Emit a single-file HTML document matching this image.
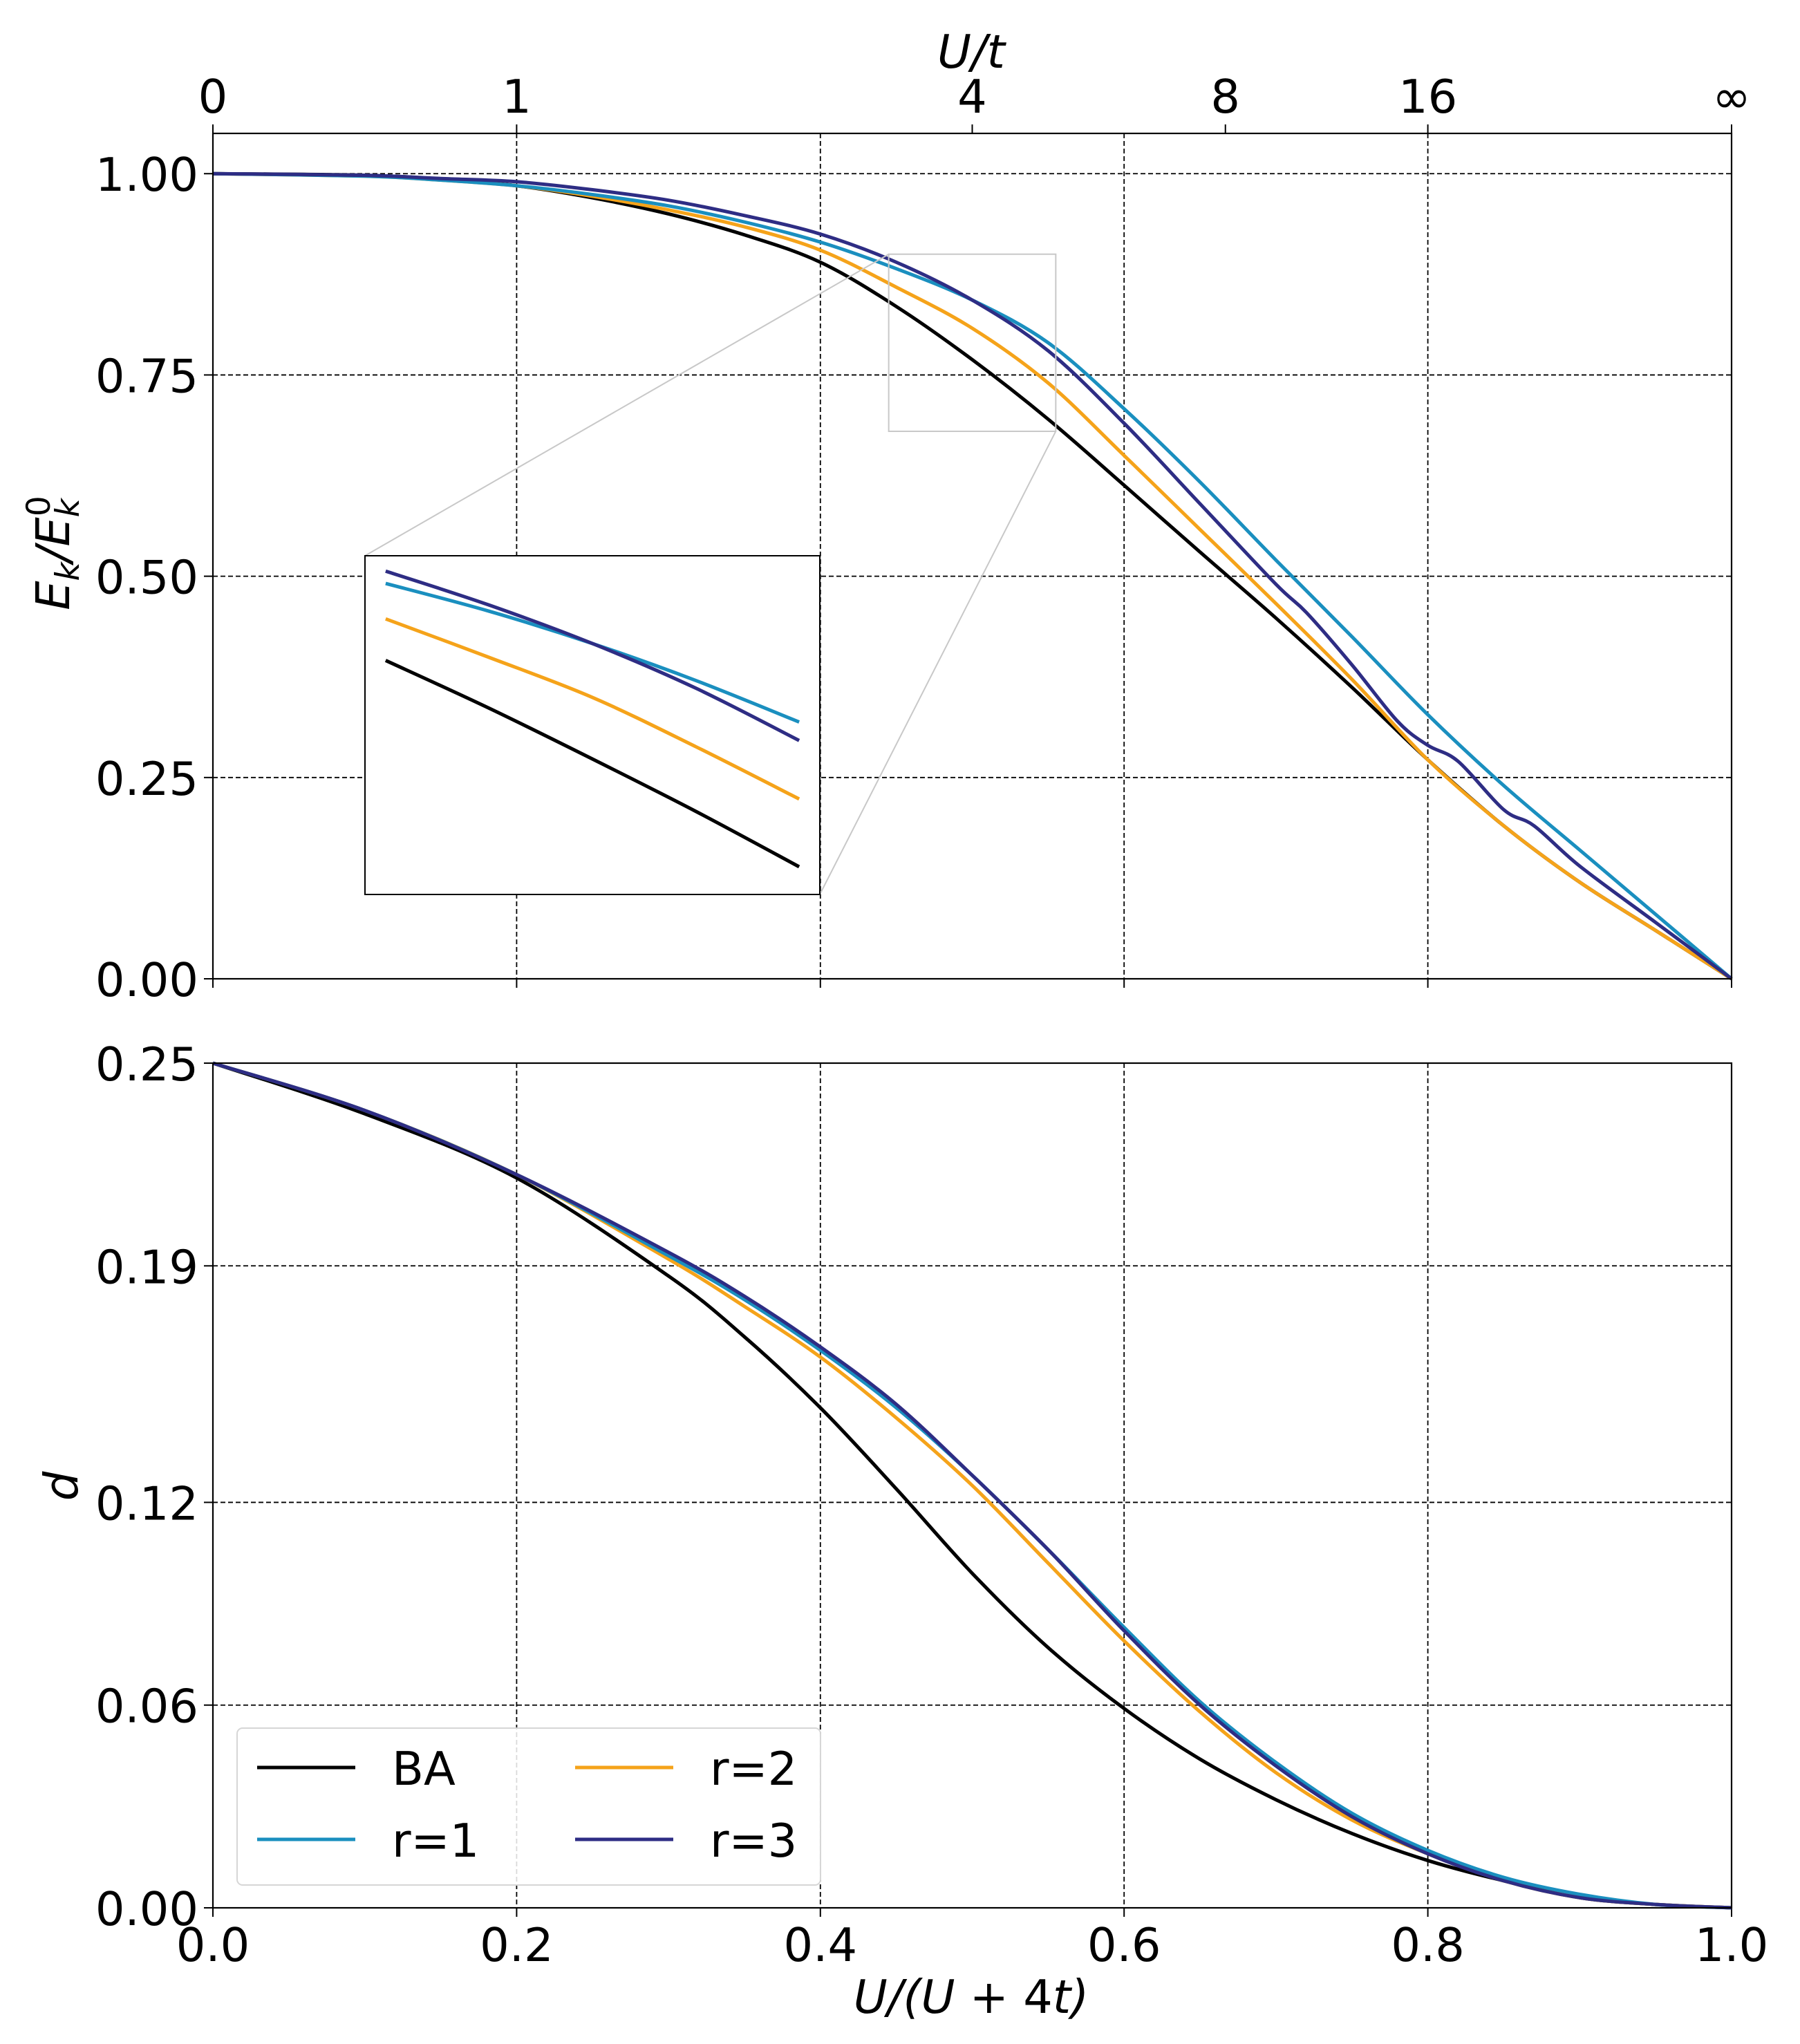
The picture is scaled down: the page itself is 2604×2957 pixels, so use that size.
<!DOCTYPE html>
<html><head><meta charset="utf-8"><style>
html,body{margin:0;padding:0;background:#fff}
svg{display:block}
text{font-family:"DejaVu Sans","Liberation Sans",sans-serif;fill:#000}
</style></head><body>
<svg id="fig" width="2604" height="2957" viewBox="0 0 2604 2957" xmlns="http://www.w3.org/2000/svg"></svg>
<script>
// ---- data ----
const xTop = [0,0.1,0.15,0.2,0.25,0.3,0.35,0.4,0.45,0.5,0.55,0.6,0.65,0.7,0.75,0.8,0.85,0.9,0.95,1.0];
const ekBA = [1.0,0.998,0.993,0.985,0.97,0.95,0.924,0.89,0.835,0.769,0.695,0.613,0.53,0.448,0.362,0.272,0.19,0.12,0.06,0.0];
const ekR1 = [1.0,0.997,0.992,0.985,0.974,0.96,0.94,0.915,0.882,0.843,0.790,0.708,0.617,0.52,0.425,0.328,0.24,0.16,0.08,0.0];
const ekR2 = [1.0,0.997,0.992,0.985,0.972,0.955,0.934,0.905,0.859,0.808,0.740,0.65,0.558,0.466,0.372,0.272,0.19,0.12,0.06,0.0];
const xR3 = [0,0.1,0.15,0.2,0.25,0.3,0.35,0.4,0.45,0.5,0.55,0.6,0.65,0.7,0.72,0.75,0.78,0.8,0.82,0.85,0.87,0.9,0.95,1.0];
const ekR3 = [1.0,0.998,0.994,0.99,0.98,0.967,0.948,0.925,0.890,0.843,0.78,0.69,0.59,0.49,0.455,0.39,0.32,0.29,0.27,0.21,0.19,0.14,0.07,0.0];
const xIn = [0.45,0.475,0.5,0.525,0.55];
const inBA = [0.832,0.801,0.768,0.734,0.698];
const inR1 = [0.882,0.864,0.843,0.819,0.792];
const inR2 = [0.859,0.834,0.808,0.776,0.742];
const inR3 = [0.890,0.868,0.843,0.814,0.780];
const xBot = [0,0.1,0.2,0.3,0.35,0.4,0.45,0.5,0.55,0.6,0.65,0.7,0.75,0.8,0.85,0.9,0.95,1.0];
const dBA = [0.25,0.235,0.216,0.187,0.169,0.148,0.124,0.099,0.077,0.059,0.044,0.032,0.022,0.014,0.008,0.003,0.001,0.0];
const dR1 = [0.25,0.236,0.217,0.193,0.180,0.165,0.148,0.128,0.106,0.083,0.061,0.043,0.028,0.017,0.009,0.004,0.001,0.0];
const dR2 = [0.25,0.236,0.217,0.192,0.178,0.163,0.145,0.125,0.102,0.079,0.058,0.040,0.026,0.016,0.008,0.003,0.001,0.0];
const dR3 = [0.25,0.236,0.217,0.194,0.181,0.166,0.149,0.128,0.106,0.082,0.060,0.042,0.027,0.016,0.008,0.003,0.001,0.0];
const xTicks = [0,0.2,0.4,0.6,0.8,1.0];
const xTickLabels = ["0.0","0.2","0.4","0.6","0.8","1.0"];
const topTickVals = [0,0.2,0.5,0.6667,0.8,1.0];
const topTickLabels = ["0","1","4","8","16","∞"];
const ekTicks = [0,0.25,0.5,0.75,1.0];
const ekTickLabels = ["0.00","0.25","0.50","0.75","1.00"];
const dTicks = [0,0.06,0.12,0.19,0.25];
const dTickLabels = ["0.00","0.06","0.12","0.19","0.25"];
const seriesNames = ["BA","r=1","r=2","r=3"];
const colors = {BA:"#000000","r=1":"#1a8fbf","r=2":"#f5a31a","r=3":"#2e2d84"};

const NS="http://www.w3.org/2000/svg";
const svg=document.getElementById('fig');
function mk(tag,attrs,parent){const e=document.createElementNS(NS,tag);for(const k in attrs)e.setAttribute(k,attrs[k]);(parent||svg).appendChild(e);return e;}

const L=308,R=2505;
const sx=x=>L+x*(R-L);
const T1=193,B1=1416; const sy1=v=>B1-(v/1.05)*(B1-T1);
const T2=1538,B2=2760; const sy2=v=>B2-(v/0.25)*(B2-T2);
const FS=67;

function smoothPath(pts){
  let d=`M${pts[0][0]},${pts[0][1]}`;
  for(let i=0;i<pts.length-1;i++){
    const p0=pts[i-1]||pts[i],p1=pts[i],p2=pts[i+1],p3=pts[i+2]||p2;
    const c1=[p1[0]+(p2[0]-p0[0])/6,p1[1]+(p2[1]-p0[1])/6];
    const c2=[p2[0]-(p3[0]-p1[0])/6,p2[1]-(p3[1]-p1[1])/6];
    d+=` C${c1[0]},${c1[1]} ${c2[0]},${c2[1]} ${p2[0]},${p2[1]}`;
  }
  return d;
}

function grid(T,B,yt,sy){
  xTicks.slice(1,-1).forEach(x=>{
    const g=mk('line',{x1:sx(x),x2:sx(x),y1:T,y2:B,stroke:'#000','stroke-width':1.8,'stroke-dasharray':'7,4'});
    
    
  });
  yt.forEach(v=>{
    const y=sy(v); if(Math.abs(y-B)<2||Math.abs(y-T)<2)return;
    const g=mk('line',{x1:L,x2:R,y1:y,y2:y,stroke:'#000','stroke-width':1.8,'stroke-dasharray':'7,4'});
    
    
  });
}
function yAxis(ticks,labels,sy,name){
  ticks.forEach((v,i)=>{
    const y=sy(v);
    mk('line',{x1:L-13,x2:L,y1:y,y2:y,stroke:'#000','stroke-width':2});
    const t=mk('text',{x:287,y:y+25,'text-anchor':'end','font-size':FS});
    t.textContent=labels[i];
    
    
  });
}

// top panel
grid(T1,B1,ekTicks,sy1);
yAxis(ekTicks,ekTickLabels,sy1,'ek-y');
xTicks.forEach(x=>mk('line',{x1:sx(x),x2:sx(x),y1:B1,y2:B1+13,stroke:'#000','stroke-width':2}));
topTickVals.forEach((x,i)=>{
  mk('line',{x1:sx(x),x2:sx(x),y1:T1-13,y2:T1,stroke:'#000','stroke-width':2});
  const t=mk('text',{x:sx(x),y:163,'text-anchor':'middle','font-size':FS});
  t.textContent=topTickLabels[i];
  
  
});
const tt=mk('text',{x:1405,y:98,'text-anchor':'middle','font-size':FS,'font-style':'italic'});
tt.textContent='U/t';


const yl1=mk('text',{transform:'translate(100,800) rotate(-90)','text-anchor':'middle','font-size':FS,'font-style':'italic'});
yl1.innerHTML='E<tspan font-size="47" dy="14">k</tspan><tspan dy="-14">/E</tspan><tspan font-size="47" dy="14">k</tspan><tspan font-size="47" font-style="normal" dy="-42" dx="-26">0</tspan>';



function drawSeries(xs,ys,sy,key,name,w){
  const p=mk('path',{d:smoothPath(xs.map((x,i)=>[sx(x),sy(ys[i])])),fill:'none',stroke:colors[key],'stroke-width':w||5,'stroke-linejoin':'round'});
  
  
}
drawSeries(xTop,ekBA,sy1,'BA','ek-line-ba');
drawSeries(xTop,ekR2,sy1,'r=2','ek-line-r2');
drawSeries(xTop,ekR1,sy1,'r=1','ek-line-r1');
drawSeries(xR3,ekR3,sy1,'r=3','ek-line-r3');

// zoom indicator
const zx0=0.445,zx1=0.555,zy0=0.68,zy1=0.90;
const zr=mk('rect',{x:sx(zx0),y:sy1(zy1),width:sx(zx1)-sx(zx0),height:sy1(zy0)-sy1(zy1),fill:'none',stroke:'#c8c8c8','stroke-width':2});


const IL=528,IR=1186,IT=804,IB=1294;
mk('line',{x1:IL,y1:IT,x2:sx(zx0),y2:sy1(zy1),stroke:'#c8c8c8','stroke-width':2});
mk('line',{x1:IR,y1:IB,x2:sx(zx1),y2:sy1(zy0),stroke:'#c8c8c8','stroke-width':2});
const ibg=mk('rect',{x:IL,y:IT,width:IR-IL,height:IB-IT,fill:'#fff',stroke:'#000','stroke-width':2});


const isx=x=>IL+(x-zx0)/(zx1-zx0)*(IR-IL);
const isy=v=>IB-(v-zy0)/(zy1-zy0)*(IB-IT);
function inSeries(ys,key,name){
  const p=mk('path',{d:smoothPath(xIn.map((x,i)=>[isx(x),isy(ys[i])])),fill:'none',stroke:colors[key],'stroke-width':5});
  
  
}
inSeries(inBA,'BA','inset-line-ba');
inSeries(inR2,'r=2','inset-line-r2');
inSeries(inR1,'r=1','inset-line-r1');
inSeries(inR3,'r=3','inset-line-r3');
mk('rect',{x:L,y:T1,width:R-L,height:B1-T1,fill:'none',stroke:'#000','stroke-width':2.2});

// bottom panel
grid(T2,B2,dTicks,sy2);
yAxis(dTicks,dTickLabels,sy2,'d-y');
xTicks.forEach((x,i)=>{
  mk('line',{x1:sx(x),x2:sx(x),y1:B2,y2:B2+13,stroke:'#000','stroke-width':2});
  const t=mk('text',{x:sx(x),y:2837,'text-anchor':'middle','font-size':FS});
  t.textContent=xTickLabels[i];
  
  
});
const xl=mk('text',{x:1405,y:2912,'text-anchor':'middle','font-size':FS,'font-style':'italic'});
xl.innerHTML='U/(U<tspan font-style="normal"> + 4</tspan>t)';


const yl2=mk('text',{transform:'translate(112,2150) rotate(-90)','text-anchor':'middle','font-size':FS,'font-style':'italic'});
yl2.textContent='d';


drawSeries(xBot,dBA,sy2,'BA','d-line-ba');
drawSeries(xBot,dR2,sy2,'r=2','d-line-r2');
drawSeries(xBot,dR1,sy2,'r=1','d-line-r1');
drawSeries(xBot,dR3,sy2,'r=3','d-line-r3');
mk('rect',{x:L,y:T2,width:R-L,height:B2-T2,fill:'none',stroke:'#000','stroke-width':2.2});

// legend
const lg=mk('rect',{x:343,y:2500,width:844,height:227,rx:8,fill:'#fff','fill-opacity':0.85,stroke:'#d6d6d6','stroke-width':2});


const legPos=[[372,2557],[372,2661],[832,2557],[832,2661]];
seriesNames.forEach((n,i)=>{
  const [x,y]=legPos[i];
  const ln=mk('line',{x1:x,x2:x+142,y1:y,y2:y,stroke:colors[n],'stroke-width':5});
  
  
  const t=mk('text',{x:x+195,y:y+25,'font-size':FS});
  t.textContent=n;
  
  
});
</script>
</body></html>
